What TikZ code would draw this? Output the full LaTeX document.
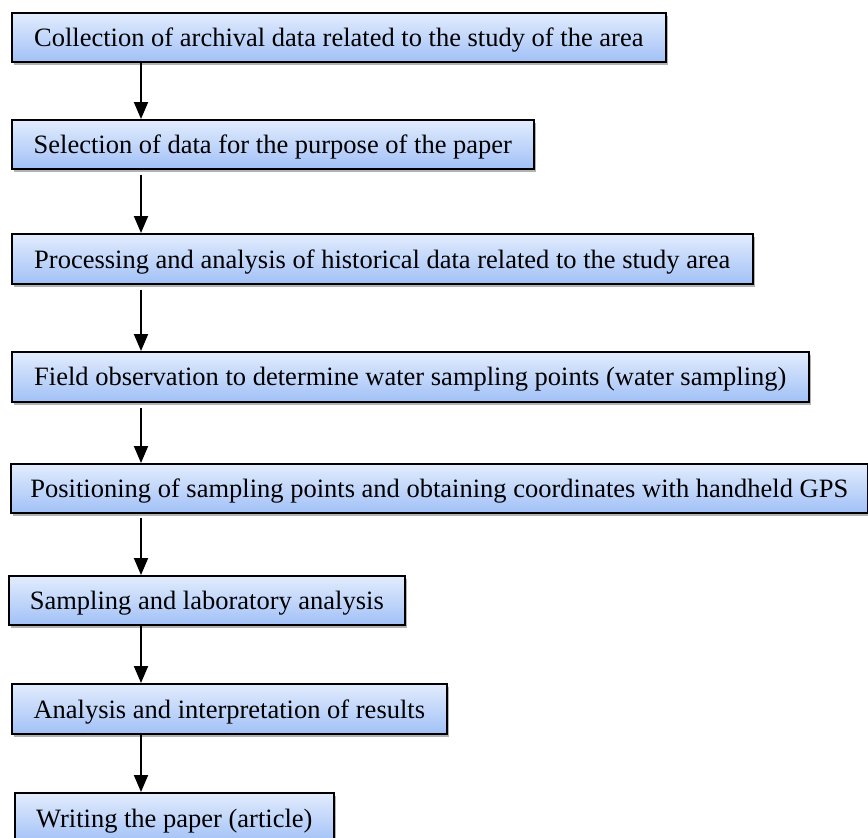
\documentclass[tikz,border=0pt]{standalone}
\usepackage{fontspec}
\setmainfont{Liberation Serif}
\usetikzlibrary{arrows.meta,shadows}
\definecolor{boxtop}{HTML}{E2ECFD}
\definecolor{boxbot}{HTML}{A2C1F7}
\begin{document}
\begin{tikzpicture}[x=1pt,y=-1pt,
  stepbox/.style={draw=black, line width=1.6pt, top color=boxtop, bottom color=boxbot,
    drop shadow={shadow xshift=2.5pt, shadow yshift=-3.5pt, opacity=0.3, fill=black},
    anchor=north west, inner sep=0pt, text depth=0pt, font=\fontsize{26.5}{30}\selectfont},
  arr/.style={line width=1.9pt, -{Triangle[width=14pt,length=17pt]}}]
\useasboundingbox (0,0) rectangle (868,838);
\clip (0,0) rectangle (868,838);
\coordinate (ax) at (141,0);
\node[stepbox, minimum width=654pt, minimum height=49pt] (b1) at (11,12) {Collection of archival data related to the study of the area};
\node[stepbox, minimum width=522pt, minimum height=49pt] (b2) at (11,119) {Selection of data for the purpose of the paper};
\node[stepbox, minimum width=741pt, minimum height=50pt] (b3) at (11,233) {Processing and analysis of historical data related to the study area};
\node[stepbox, minimum width=797pt, minimum height=50pt] (b4) at (11,351) {Field observation to determine water sampling points (water sampling)};
\node[stepbox, minimum width=857pt, minimum height=49pt] (b5) at (10,463) {Positioning of sampling points and obtaining coordinates with handheld GPS};
\node[stepbox, minimum width=396pt, minimum height=49pt] (b6) at (8,575) {Sampling and laboratory analysis};
\node[stepbox, minimum width=435pt, minimum height=50pt] (b7) at (11,683) {Analysis and interpretation of results};
\node[stepbox, minimum width=319pt, minimum height=50pt] (b8) at (14,792) {Writing the paper (article)};
\draw[arr] (b1.south -| ax) -- (b2.north -| ax);
\draw[arr] ([yshift=-5pt]b2.south -| ax) -- (b3.north -| ax);
\draw[arr] ([yshift=-5pt]b3.south -| ax) -- (b4.north -| ax);
\draw[arr] ([yshift=-5pt]b4.south -| ax) -- (b5.north -| ax);
\draw[arr] ([yshift=-4pt]b5.south -| ax) -- (b6.north -| ax);
\draw[arr] (b6.south -| ax) -- (b7.north -| ax);
\draw[arr] (b7.south -| ax) -- (b8.north -| ax);
\end{tikzpicture}
\end{document}
